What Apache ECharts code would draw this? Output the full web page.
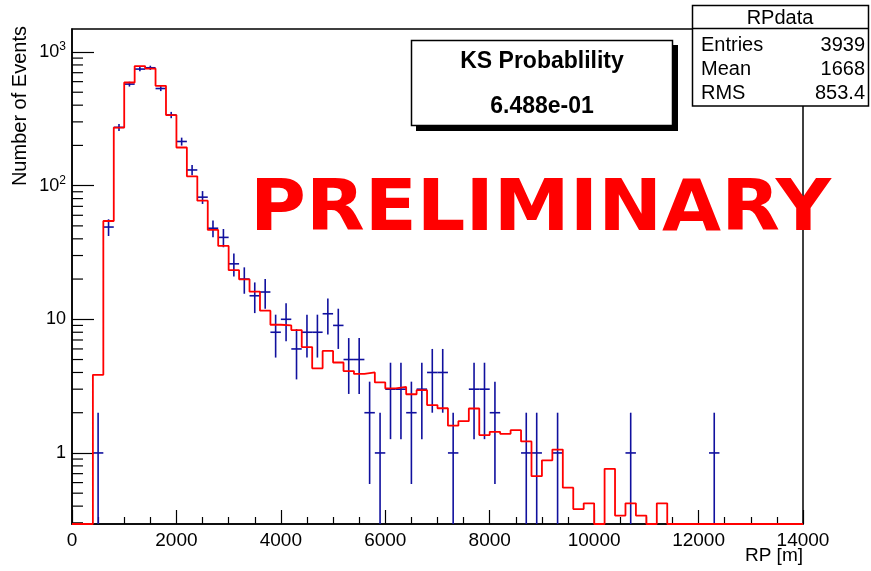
<!DOCTYPE html>
<html>
<head>
<meta charset="utf-8">
<script src="https://cdn.jsdelivr.net/npm/echarts@6/dist/echarts.min.js"></script>
<style>
  html, body { margin: 0; padding: 0; background: #fff; }
  #chart { width: 871px; height: 571px; }
</style>
</head>
<body>
<div id="chart"></div>
<script>
// Histogram binning of RP (metres)
const binLow = 0;
const binHigh = 14000;
const binWidth = 200;

// Observed counts per 200 m bin (0-200, 200-400, ... 13800-14000)
const dataCounts = [
  0, 0, 1, 49, 273, 575, 745, 762, 533, 338,
  214, 131, 82, 48, 41, 26, 20, 15, 16, 8,
  10, 6, 8, 8, 11, 9, 5, 5, 2, 1,
  3, 3, 2, 3, 4, 4, 1, 0, 3, 3,
  2, 0, 0, 1, 1, 0, 1, 0, 0, 0,
  0, 0, 0, 1, 0, 0, 0, 0, 0, 0,
  0, 1, 0, 0, 0, 0, 0, 0, 0, 0
];

// Normalised simulation per bin
const mcCounts = [
  0, 0, 3.84, 54.4, 272, 591, 784, 752, 558, 337,
  193, 117.5, 77.2, 46.6, 35.4, 23.3, 19.9, 16.1, 11.6, 9.1,
  9.0, 8.3, 6.2, 4.3, 5.8, 4.75, 4.1, 3.9, 4.0, 3.37,
  3.04, 3.12, 2.75, 2.95, 2.28, 2.16, 1.6, 1.73, 2.15, 1.36,
  1.44, 1.39, 1.48, 1.22, 0.67, 0.88, 1.06, 0.55, 0.38, 0.42,
  0, 0.76, 0.34, 0.42, 0.34, 0, 0.42, 0, 0, 0,
  0, 0, 0, 0, 0, 0, 0, 0, 0, 0
];

// Vertical range of the log axis
const yMin = 0.294;
const yMax = 1486;

// Decade labels on the log axis (exponent -> label)
const decadeExponents = [0, 1, 2, 3];
const decadeLabels = ['1', '10', '{b|10}{s|2}', '{b|10}{s|3}'];

// Stat box and KS box content
const statTitle = 'RPdata';
const statRows = [['Entries', '3939'], ['Mean', '1668'], ['RMS', '853.4']];
const ksLines = ['KS Probablility', '6.488e-01'];

const FONT = '"Liberation Sans", Arial, Helvetica, sans-serif';

// Step line for the simulated histogram (zeros sit on the axis floor)
const mcStep = [];
mcCounts.forEach((v, i) => mcStep.push([binLow + i * binWidth, v > 0 ? v : yMin]));
mcStep.push([binHigh, mcCounts[mcCounts.length - 1] > 0 ? mcCounts[mcCounts.length - 1] : yMin]);

// Data points with sqrt(N) errors, empty bins skipped
const dataPoints = [];
dataCounts.forEach((n, i) => {
  if (n > 0) dataPoints.push([binLow + (i + 0.5) * binWidth, n]);
});

// Minor ticks (2..9 x decade) on the log axis
const minorTickValues = [];
for (let e = -1; e <= 3; e++) {
  for (let m = 2; m <= 9; m++) {
    const v = m * Math.pow(10, e);
    if (v > yMin && v < yMax) minorTickValues.push([binLow, v]);
  }
}

const chart = echarts.init(document.getElementById('chart'), null, { renderer: 'canvas' });

const option = {
  animation: false,
  backgroundColor: '#fff',
  grid: {
    left: 72, right: 68, top: 29, bottom: 47,
    show: true, borderColor: '#000', borderWidth: 1.5, backgroundColor: 'transparent'
  },
  xAxis: {
    type: 'value',
    min: binLow, max: binHigh, interval: 2000,
    axisLine: { show: true, onZero: false, lineStyle: { color: '#000', width: 1.5 } },
    axisTick: { show: true, inside: true, length: 14, lineStyle: { color: '#000', width: 1.2 } },
    minorTick: { show: true, splitNumber: 4, length: 7, lineStyle: { color: '#000', width: 1.2 } },
    axisLabel: {
      color: '#000', fontSize: 19, fontFamily: FONT, margin: 7,
      formatter: function (v) { return String(v); }
    },
    splitLine: { show: false }
  },
  yAxis: {
    type: 'log', logBase: 10,
    min: yMin, max: yMax,
    axisLine: { show: true, lineStyle: { color: '#000', width: 1.5 } },
    axisTick: { show: true, inside: true, length: 22, lineStyle: { color: '#000', width: 1.2 } },
    axisLabel: {
      color: '#000', fontSize: 18, fontFamily: FONT, margin: 6,
      showMinLabel: false, showMaxLabel: false,
      formatter: function (value) {
        const lg = Math.log10(value);
        const e = Math.round(lg);
        if (Math.abs(lg - e) > 1e-6) return '';
        const k = decadeExponents.indexOf(e);
        return k >= 0 ? decadeLabels[k] : '';
      },
      rich: {
        b: { fontSize: 18, fontFamily: FONT, color: '#000' },
        s: { fontSize: 12, fontFamily: FONT, color: '#000', padding: [0, 0, 10, 0] }
      }
    },
    splitLine: { show: false }
  },
  series: [
    {
      name: 'minor ticks',
      type: 'custom',
      silent: true,
      clip: false,
      z: 3,
      data: minorTickValues,
      renderItem: function (params, api) {
        const p = api.coord([api.value(0), api.value(1)]);
        return {
          type: 'line',
          shape: { x1: p[0], y1: p[1], x2: p[0] + 11, y2: p[1] },
          style: { stroke: '#000', lineWidth: 1.2 }
        };
      }
    },
    {
      name: 'RPdata',
      type: 'custom',
      clip: false,
      z: 4,
      data: dataPoints,
      renderItem: function (params, api) {
        const x = api.value(0);
        const n = api.value(1);
        const err = Math.sqrt(n);
        const lo = Math.max(n - err, yMin);
        const hi = Math.min(n + err, yMax);
        const pL = api.coord([x - binWidth / 2, n]);
        const pR = api.coord([x + binWidth / 2, n]);
        const pT = api.coord([x, hi]);
        const pB = api.coord([x, lo]);
        const st = { stroke: '#10109e', lineWidth: 1.6 };
        return {
          type: 'group',
          children: [
            { type: 'line', shape: { x1: pL[0], y1: pL[1], x2: pR[0], y2: pR[1] }, style: st },
            { type: 'line', shape: { x1: pT[0], y1: pT[1], x2: pB[0], y2: pB[1] }, style: st }
          ]
        };
      }
    },
    {
      name: 'RPmc',
      type: 'line',
      step: 'end',
      data: mcStep,
      symbol: 'none',
      clip: false,
      z: 5,
      lineStyle: { color: '#ff0000', width: 1.8 }
    }
  ],
  graphic: [
    // y-axis title
    {
      type: 'text', x: 20, y: 26, rotation: Math.PI / 2, z: 10,
      style: { text: 'Number of Events', font: '20px ' + FONT, fill: '#000', align: 'right', verticalAlign: 'middle' }
    },
    // x-axis title
    {
      type: 'text', x: 803, y: 556, z: 10,
      style: { text: 'RP [m]', font: '19px ' + FONT, fill: '#000', align: 'right', verticalAlign: 'middle' }
    },
    // preliminary stamp
    {
      type: 'text', x: 250, y: 211, scaleX: 1.06, z: 6,
      style: { text: 'PRELIMINARY', font: 'bold 72px "DejaVu Sans", sans-serif', fill: '#ff0000', align: 'left', verticalAlign: 'middle' }
    },
    // KS box: shadow, frame, text
    { type: 'rect', z: 20, shape: { x: 416, y: 45, width: 262, height: 86 }, style: { fill: '#000' } },
    { type: 'rect', z: 21, shape: { x: 411.5, y: 40.5, width: 261, height: 85 }, style: { fill: '#fff', stroke: '#000', lineWidth: 1.5 } },
    {
      type: 'text', x: 542, y: 62, z: 22,
      style: { text: ksLines[0], font: 'bold 23px ' + FONT, fill: '#000', align: 'center', verticalAlign: 'middle' }
    },
    {
      type: 'text', x: 542, y: 107, z: 22,
      style: { text: ksLines[1], font: 'bold 23px ' + FONT, fill: '#000', align: 'center', verticalAlign: 'middle' }
    },
    // statistics box
    { type: 'rect', z: 20, shape: { x: 692.5, y: 5.5, width: 176, height: 100.5 }, style: { fill: '#fff', stroke: '#000', lineWidth: 1.5 } },
    { type: 'line', z: 21, shape: { x1: 692.5, y1: 28.5, x2: 868.5, y2: 28.5 }, style: { stroke: '#000', lineWidth: 1.5 } },
    {
      type: 'text', x: 780, y: 18, z: 22,
      style: { text: statTitle, font: '20px ' + FONT, fill: '#000', align: 'center', verticalAlign: 'middle' }
    }
  ].concat(statRows.flatMap((row, i) => [
    {
      type: 'text', x: 701, y: 45 + i * 24, z: 22,
      style: { text: row[0], font: '20px ' + FONT, fill: '#000', align: 'left', verticalAlign: 'middle' }
    },
    {
      type: 'text', x: 865, y: 45 + i * 24, z: 22,
      style: { text: row[1], font: '20px ' + FONT, fill: '#000', align: 'right', verticalAlign: 'middle' }
    }
  ]))
};

chart.setOption(option);
</script>
</body>
</html>
